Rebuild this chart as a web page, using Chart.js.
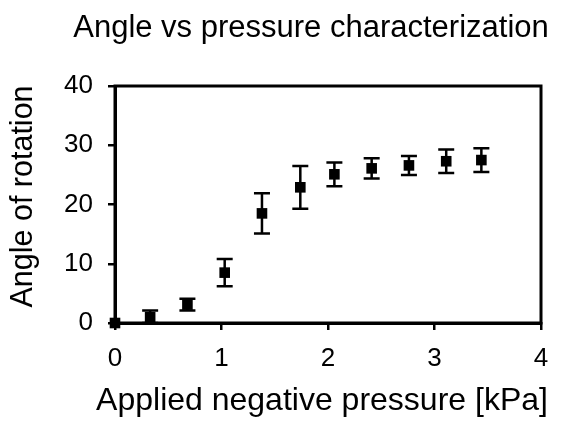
<!DOCTYPE html>
<html>
<head>
<meta charset="utf-8">
<script src="https://cdn.jsdelivr.net/npm/chart.js@4/dist/chart.umd.min.js"></script>
<style>
  html, body { margin: 0; padding: 0; background: #fff; }
  #wrap { width: 567px; height: 421px; }
</style>
</head>
<body>
<div id="wrap"><canvas id="angleChart"></canvas></div>
<script>
// values
const pressure = [0, 0.33, 0.68, 1.03, 1.38, 1.74, 2.06, 2.41, 2.76, 3.11, 3.44];
const angle    = [0, 1.0, 3.1, 8.5, 18.5, 22.9, 25.1, 26.1, 26.6, 27.3, 27.5];
const angleErr = [0, 1.1, 1.0, 2.3, 3.4, 3.6, 2.0, 1.7, 1.6, 2.0, 2.0];
const xTicks = [0, 1, 2, 3, 4];
const yTicks = [0, 10, 20, 30, 40];
const xLabel = 'Applied negative pressure [kPa]';
const yLabel = 'Angle of rotation';

const FONT = "'Liberation Sans', Arial, sans-serif";
Chart.defaults.font.family = FONT;
Chart.defaults.color = '#000';

// vertical error bars with caps
const errorBars = {
    id: 'errorBars',
    afterDatasetsDraw(chart) {
        const { ctx, scales: { x, y } } = chart;
        ctx.save();
        ctx.strokeStyle = '#000';
        ctx.lineWidth = 2.5;
        pressure.forEach((p, i) => {
            if (!angleErr[i]) return;
            const px = x.getPixelForValue(p);
            const top = y.getPixelForValue(angle[i] + angleErr[i]);
            const bot = y.getPixelForValue(Math.max(0, angle[i] - angleErr[i]));
            ctx.beginPath();
            ctx.moveTo(px, top); ctx.lineTo(px, bot);
            ctx.moveTo(px - 8, top); ctx.lineTo(px + 8, top);
            ctx.moveTo(px - 8, bot); ctx.lineTo(px + 8, bot);
            ctx.stroke();
        });
        ctx.restore();
    }
};

// box round the plot area, title nudged right, axis titles
// (the axis titles are wider than the plot, so chart.js would squeeze them)
const frame = {
    id: 'frame',
    afterLayout(chart) {
        const t = chart.titleBlock;
        if (t) { t.left = 55; t.right = chart.width; t.width = t.right - t.left; }
    },
    beforeDatasetsDraw(chart) {
        const { ctx, chartArea: a } = chart;
        ctx.save();
        ctx.strokeStyle = '#000';
        ctx.lineWidth = 3;
        ctx.strokeRect(a.left, a.top, a.right - a.left, a.bottom - a.top);
        ctx.restore();
    },
    afterDraw(chart) {
        const { ctx, chartArea: a } = chart;
        ctx.save();
        ctx.fillStyle = '#000';
        ctx.textAlign = 'center';
        ctx.textBaseline = 'middle';
        ctx.font = '32px ' + FONT;
        ctx.fillText(xLabel, (a.left + a.right) / 2 - 6, a.bottom + 78);
        ctx.translate(a.left - 91, (a.top + a.bottom) / 2 - 8);
        ctx.rotate(-Math.PI / 2);
        ctx.font = '30.5px ' + FONT;
        ctx.fillText(yLabel, 0, 0);
        ctx.restore();
    }
};

new Chart(document.getElementById('angleChart'), {
    type: 'scatter',
    data: {
        datasets: [{
            data: pressure.map((p, i) => ({ x: p, y: angle[i] })),
            pointStyle: 'rect',
            pointRadius: 7.5,
            pointHoverRadius: 7.5,
            backgroundColor: '#000',
            borderColor: '#000',
            borderWidth: 0,
            clip: false
        }]
    },
    options: {
        responsive: true,
        maintainAspectRatio: false,
        animation: false,
        layout: { padding: { left: 0, right: 26, top: 0, bottom: 0 } },
        plugins: {
            legend: { display: false },
            tooltip: { enabled: false },
            title: {
                display: true,
                text: 'Angle vs pressure characterization',
                color: '#000',
                font: { size: 31, weight: 'normal' },
                padding: { top: 9.4, bottom: 39.4 }
            }
        },
        scales: {
            x: {
                type: 'linear',
                min: xTicks[0],
                max: xTicks[xTicks.length - 1],
                ticks: { stepSize: 1, font: { size: 26 }, padding: 13, color: '#000' },
                grid: { drawOnChartArea: false, drawTicks: true, tickLength: 7, color: '#000', lineWidth: 2.5 },
                border: { display: true, color: '#000', width: 3 },
                title: { display: false },
                afterFit(scale) { scale.height = 98; }
            },
            y: {
                min: yTicks[0],
                max: yTicks[yTicks.length - 1],
                ticks: { stepSize: 10, font: { size: 26 }, padding: 15, color: '#000' },
                grid: { drawOnChartArea: false, drawTicks: true, tickLength: 7, color: '#000', lineWidth: 2.5 },
                border: { display: true, color: '#000', width: 3 },
                title: { display: false },
                afterFit(scale) { scale.width = 115; }
            }
        }
    },
    plugins: [errorBars, frame]
});
</script>
</body>
</html>
